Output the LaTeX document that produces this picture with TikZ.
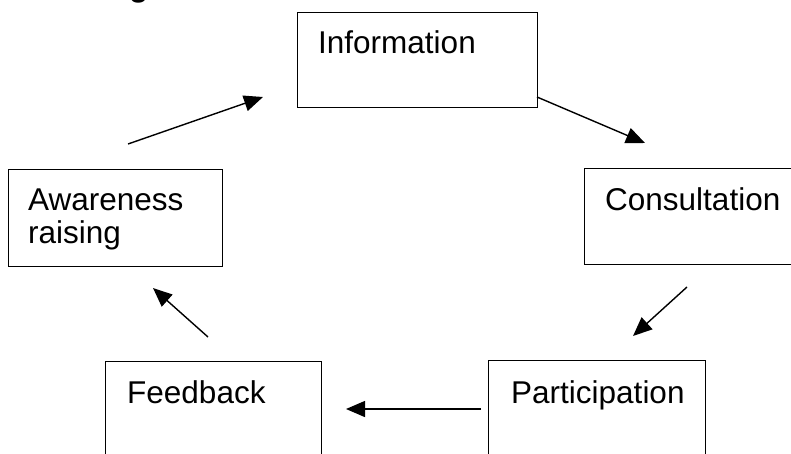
\documentclass[tikz,border=0pt]{standalone}
\usepackage{fontspec}
\setmainfont{Liberation Sans}
\usetikzlibrary{arrows.meta}
\begin{document}
\begin{tikzpicture}[x=1pt,y=-1pt,
  box/.style={draw=black, line width=1.3pt, fill=white, anchor=north west, inner sep=0pt},
  lbl/.style={anchor=base west, inner sep=0pt, font=\fontsize{31.5}{36}\selectfont},
  conn/.style={line width=1.4pt, -{Triangle[length=19pt,width=16pt]}}]
\useasboundingbox (0,0) rectangle (791,453);
\fill[white] (0,0) rectangle (791,453);
% cut-off heading
\node[anchor=base west, inner sep=0pt, font=\fontsize{31.5}{36}\selectfont\bfseries] (head) at (129,-3.5) {g};
% boxes
\node[box, minimum width=240pt, minimum height=95pt] (info) at (297,12) {};
\node[box, minimum width=230pt, minimum height=96pt] (cons) at (584,168) {};
\node[box, minimum width=214pt, minimum height=97pt] (aware) at (8,169) {};
\node[box, minimum width=216pt, minimum height=100pt] (feed) at (105,361) {};
\node[box, minimum width=217pt, minimum height=100pt] (part) at (488,360) {};
% labels
\node[lbl] (tinfo) at (318,53) {Information};
\node[lbl] (tcons) at (605,210) {Consultation};
\node[lbl] (taw1) at (28,210) {Awareness};
\node[lbl] (taw2) at (28,243) {raising};
\node[lbl] (tfeed) at (127,403) {Feedback};
\node[lbl] (tpart) at (511,403) {Participation};
% connector end points
\coordinate (a1) at (128,144); \coordinate (a2) at (263,97);
\coordinate (b1) at (537,97);  \coordinate (b2) at (645,143);
\coordinate (c1) at (687,287); \coordinate (c2) at (633,336);
\coordinate (d1) at (481,409); \coordinate (d2) at (346,409);
\coordinate (e1) at (208,337); \coordinate (e2) at (153,288);
\draw[conn] (a1) -- (a2);
\draw[conn] (b1) -- (b2);
\draw[conn] (c1) -- (c2);
\draw[conn] (d1) -- (d2);
\draw[conn] (e1) -- (e2);
\end{tikzpicture}
\end{document}
